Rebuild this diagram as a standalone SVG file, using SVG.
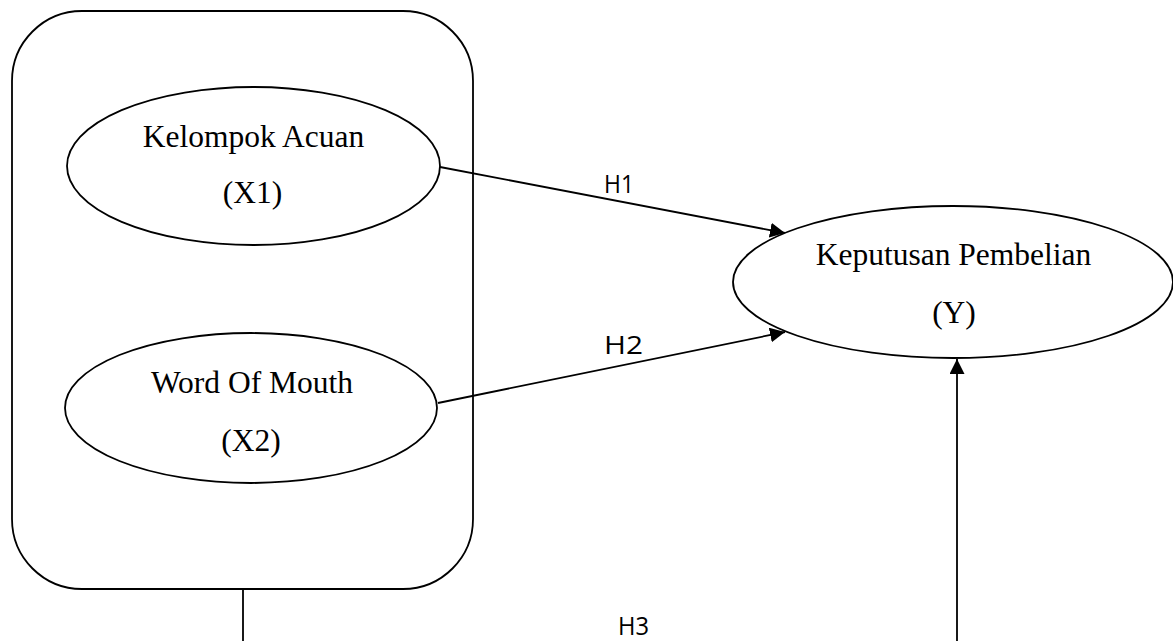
<svg xmlns="http://www.w3.org/2000/svg" width="1173" height="641" viewBox="0 0 1173 641">
<style>
.shape{fill:#fff;stroke:#000;stroke-width:1.8}
.conn{fill:none;stroke:#000;stroke-width:1.8}
.t{font-family:"Liberation Serif","Times New Roman",serif;font-size:31.5px;fill:#000;text-anchor:middle}
.h{font-family:"Open Sans","Liberation Sans",sans-serif;font-size:26px;fill:#000}
</style>
<defs>
<marker id="arr" markerUnits="userSpaceOnUse" markerWidth="16" markerHeight="16" refX="15" refY="7.5" orient="auto">
<path d="M0,0 L15,7.5 L0,15 z" fill="#000"/>
</marker>
</defs>
<rect width="1173" height="641" fill="#fff"/>
<g id="group-x">
<rect class="shape" x="12" y="11" width="461" height="578" rx="70" ry="70"/>
</g>
<g id="connectors">
<line class="conn" x1="440" y1="167" x2="785" y2="233" marker-end="url(#arr)"/>
<line class="conn" x1="438" y1="403" x2="785" y2="332" marker-end="url(#arr)"/>
<line class="conn" x1="243" y1="589" x2="243" y2="641"/>
<line class="conn" x1="957" y1="641" x2="957" y2="359" marker-end="url(#arr)"/>
<text class="h" x="604" y="193" textLength="30" lengthAdjust="spacingAndGlyphs">H1</text>
<text class="h" x="604" y="354" textLength="39" lengthAdjust="spacingAndGlyphs">H2</text>
<text class="h" x="618" y="635" font-size="25" textLength="31" lengthAdjust="spacingAndGlyphs">H3</text>
</g>
<g id="x1">
<ellipse class="shape" cx="253.5" cy="166" rx="186.5" ry="79"/>
<text class="t" x="253.5" y="147">Kelompok Acuan</text>
<text class="t" x="252.5" y="203">(X1)</text>
</g>
<g id="x2">
<ellipse class="shape" cx="251" cy="408" rx="186" ry="75"/>
<text class="t" x="252" y="393">Word Of Mouth</text>
<text class="t" x="251" y="451">(X2)</text>
</g>
<g id="y">
<ellipse class="shape" cx="953" cy="282" rx="220" ry="76"/>
<text class="t" x="953.5" y="265">Keputusan Pembelian</text>
<text class="t" x="954" y="323">(Y)</text>
</g>
</svg>
